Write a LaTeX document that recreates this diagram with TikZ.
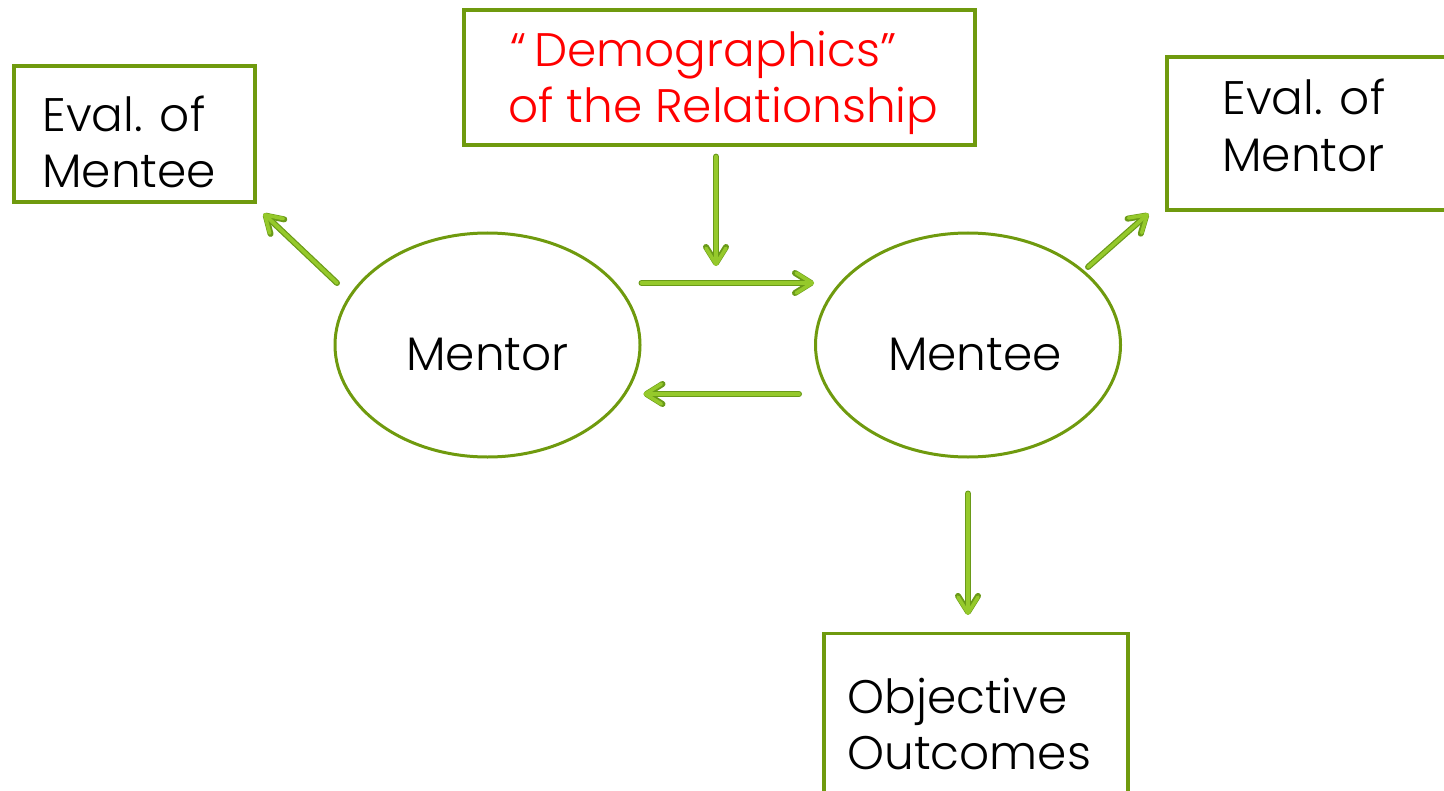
\documentclass[tikz,border=0pt]{standalone}
\usepackage{fontspec}
\setmainfont{Poppins}[UprightFont={* Light}]
\usetikzlibrary{arrows.meta,shapes.geometric}
\definecolor{boxgreen}{HTML}{6F9A0E}
\definecolor{arrlight}{HTML}{95C92B}
\definecolor{arrdark}{HTML}{6A9A18}
\definecolor{demred}{HTML}{FF0000}
\begin{document}
\begin{tikzpicture}[x=0.5pt,y=-0.5pt,
  box/.style={draw=boxgreen, line width=1.6pt, rectangle, inner sep=0pt},
  oval/.style={draw=boxgreen, line width=1.5pt, ellipse, inner sep=0pt,
    minimum width=152.5pt, minimum height=112pt,
    font=\fontsize{23.5}{28}\selectfont, text height=25pt, text depth=0pt},
  lbl/.style={anchor=base west, inner sep=0pt, font=\fontsize{23.5}{28}\selectfont},
  conn/.style={line width=1.8pt, arrlight, line cap=round,
    -{Straight Barb[length=8pt,width=10pt,round]},
    preaction={draw=arrdark, line width=3pt, line cap=round,
      -{Straight Barb[length=8pt,width=10pt,round]}}}
]
\useasboundingbox (0,0) rectangle (1444,791);
\clip (0,0) rectangle (1444,791);

% boxes
\node[box, minimum width=120.5pt, minimum height=68pt] (em) at (134.5,134) {};
\node[box, minimum width=255.5pt, minimum height=67.5pt] (dem) at (719.5,77.5) {};
\node[box, minimum width=166.5pt, minimum height=76.5pt] (emr) at (1333.5,133.5) {};
\node[box, minimum width=152pt, minimum height=108.5pt] (oo) at (976,742) {};

% box texts
\node[lbl] (t1) at (42,132) {Eval. of};
\node[lbl] (t2) at (42,188) {Mentee};
\node[lbl, text=demred] (t3) at (510,67) {“\,Demographics”};
\node[lbl, text=demred] (t4) at (508,123) {of the Relationship};
\node[lbl] (t5) at (1222,115) {Eval. of};
\node[lbl] (t6) at (1222,172) {Mentor};
\node[lbl] (t7) at (847,713) {Objective};
\node[lbl] (t8) at (847,769) {Outcomes};

% ellipses
\node[oval] (mentor) at (487.5,345) {Mentor};
\node[oval] (mentee) at (968,345) {\hspace*{7pt}Mentee};

% connectors
\coordinate (demtip) at (716,266);
\draw[conn] ([xshift=-1.75pt,yshift=-5pt]dem.south) -- (demtip);
\draw[conn] ([yshift=31pt]mentor.east) -- ([yshift=31pt]mentee.west);
\draw[conn] ([xshift=-7.5pt,yshift=-24.5pt]mentee.west) -- ([xshift=1pt,yshift=-24.5pt]mentor.east);
\draw[conn] ([xshift=-75.25pt,yshift=31pt]mentor.center) -- ([xshift=3.5pt,yshift=-5pt]em.south east);
\draw[conn] ([xshift=60pt,yshift=39pt]mentee.center) -- ([xshift=-8.5pt,yshift=-1pt]emr.south west);
\draw[conn] ([yshift=-17.5pt]mentee.south) -- ([xshift=-4pt,yshift=8.5pt]oo.north);
\end{tikzpicture}
\end{document}
